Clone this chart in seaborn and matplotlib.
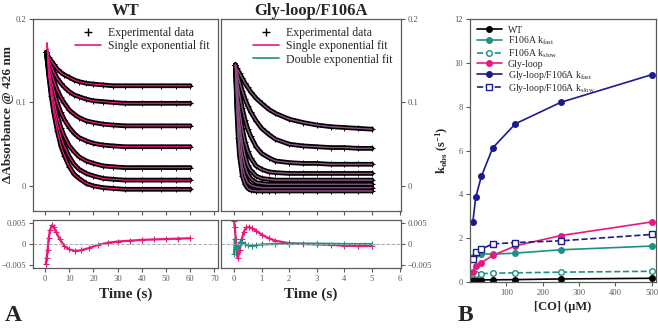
import numpy as np
import pandas as pd
import matplotlib.pyplot as plt
import seaborn as sns
from matplotlib.lines import Line2D

# ── colours ──────────────────────────────────────────────────
PINK = "#e8197d"
TEAL = "#1c9185"
NAVY = "#1b1b8f"
GREY = "#5a5a5a"

# ── A: WT stopped-flow traces (ΔA at 426 nm) ────────────────
wt_time = [0.5, 1.5, 2.5, 3.5, 5, 6.5, 8, 10, 12, 14, 17, 20, 24, 28, 33, 40, 48, 54, 60]
wt_traces = [
    [0.160, 0.154, 0.150, 0.146, 0.140, 0.136, 0.133, 0.130, 0.127, 0.125, 0.123, 0.122, 0.121, 0.120, 0.120, 0.120, 0.120, 0.120, 0.120],
    [0.160, 0.151, 0.144, 0.137, 0.129, 0.123, 0.118, 0.113, 0.109, 0.107, 0.104, 0.102, 0.101, 0.100, 0.099, 0.099, 0.099, 0.099, 0.099],
    [0.160, 0.147, 0.136, 0.127, 0.115, 0.106, 0.099, 0.091, 0.086, 0.082, 0.078, 0.076, 0.074, 0.073, 0.072, 0.072, 0.072, 0.072, 0.072],
    [0.160, 0.142, 0.127, 0.115, 0.100, 0.088, 0.079, 0.070, 0.063, 0.058, 0.054, 0.051, 0.049, 0.048, 0.047, 0.047, 0.047, 0.047, 0.047],
    [0.160, 0.138, 0.119, 0.104, 0.085, 0.070, 0.059, 0.048, 0.041, 0.035, 0.030, 0.027, 0.024, 0.023, 0.022, 0.022, 0.022, 0.022, 0.022],
    [0.160, 0.135, 0.114, 0.096, 0.075, 0.059, 0.047, 0.035, 0.026, 0.020, 0.015, 0.012, 0.009, 0.008, 0.007, 0.007, 0.007, 0.007, 0.007],
    [0.160, 0.132, 0.108, 0.089, 0.066, 0.048, 0.036, 0.023, 0.014, 0.009, 0.003, 0.000, -0.002, -0.003, -0.004, -0.004, -0.004, -0.004, -0.004],
]
wt_fit_t0, wt_fit_a0 = 0.8, 0.171   # start of the fitted curves (small overshoot)

wt_res_t = [0.3, 0.6, 1.0, 1.5, 2.0, 2.7, 3.5, 4.5, 6, 8, 10, 12.5, 15, 18, 22, 26, 30, 35, 40, 45, 50, 55, 60]
wt_res = [-0.0048, -0.0035, -0.0015, 0.0015, 0.0033, 0.0045, 0.0042, 0.0030, 0.0012, -0.0005, -0.0013,
          -0.0017, -0.0015, -0.0010, -0.0002, 0.0003, 0.0006, 0.0008, 0.0010, 0.0011, 0.0012, 0.0013, 0.0014]

# ── A: Gly-loop/F106A traces ─────────────────────────────────
gl_time = [0.05, 0.1, 0.15, 0.2, 0.3, 0.4, 0.5, 0.6, 0.8, 1.0, 1.25, 1.5, 2.0, 2.5, 3.0, 3.5, 4.0, 4.5, 5.0]
gl_traces = [
    [0.145, 0.141, 0.138, 0.135, 0.129, 0.123, 0.118, 0.113, 0.105, 0.099, 0.092, 0.087, 0.080, 0.076, 0.073, 0.071, 0.070, 0.069, 0.068],
    [0.145, 0.138, 0.131, 0.125, 0.114, 0.104, 0.096, 0.089, 0.078, 0.069, 0.062, 0.056, 0.050, 0.048, 0.047, 0.046, 0.046, 0.045, 0.045],
    [0.145, 0.132, 0.121, 0.110, 0.093, 0.079, 0.068, 0.060, 0.047, 0.039, 0.034, 0.030, 0.028, 0.027, 0.027, 0.026, 0.026, 0.026, 0.026],
    [0.145, 0.124, 0.107, 0.092, 0.069, 0.053, 0.042, 0.034, 0.024, 0.020, 0.017, 0.016, 0.015, 0.015, 0.015, 0.015, 0.015, 0.015, 0.015],
    [0.145, 0.117, 0.095, 0.077, 0.052, 0.036, 0.025, 0.019, 0.012, 0.009, 0.008, 0.007, 0.007, 0.007, 0.007, 0.007, 0.007, 0.007, 0.007],
    [0.145, 0.111, 0.085, 0.065, 0.038, 0.023, 0.014, 0.009, 0.004, 0.003, 0.002, 0.002, 0.002, 0.002, 0.002, 0.002, 0.002, 0.002, 0.002],
    [0.145, 0.102, 0.071, 0.049, 0.024, 0.011, 0.004, 0.001, -0.001, -0.002, -0.002, -0.002, -0.002, -0.002, -0.002, -0.002, -0.002, -0.002, -0.002],
    [0.145, 0.093, 0.058, 0.036, 0.012, 0.002, -0.003, -0.005, -0.006, -0.006, -0.006, -0.006, -0.006, -0.006, -0.006, -0.006, -0.006, -0.006, -0.006],
]

gl_res1_t = [0.0, 0.03, 0.06, 0.1, 0.14, 0.2, 0.28, 0.36, 0.45, 0.55, 0.65, 0.8, 1.0, 1.25, 1.5, 2.0, 2.5, 3.0, 3.5, 4.0, 4.5, 5.0]
gl_res1 = [0.0055, 0.0042, 0.0012, -0.0025, -0.0034, -0.0015, 0.0012, 0.0030, 0.0040, 0.0041, 0.0038,
           0.0032, 0.0023, 0.0014, 0.0008, 0.0002, 0.0000, -0.0001, -0.0002, -0.0004, -0.0005, -0.0005]
gl_res2_t = [0.0, 0.03, 0.06, 0.1, 0.15, 0.22, 0.3, 0.4, 0.5, 0.65, 0.8, 1.0, 1.5, 2.0, 3.0, 4.0, 5.0]
gl_res2 = [-0.0024, 0.0012, -0.0010, -0.0011, -0.0004, 0.0005, 0.0004, -0.0001, -0.0003, -0.0004,
           -0.0003, -0.0001, 0.0000, 0.0001, 0.0001, 0.0000, 0.0000]

# ── B: kobs vs [CO] ──────────────────────────────────────────
co_conc = [7.8, 15.6, 31.25, 62.5, 125, 250, 500]
k_wt = [0.08, 0.09, 0.10, 0.10, 0.11, 0.14, 0.17]
k_f106a_fast = [1.12, 1.28, 1.29, 1.27, 1.32, 1.47, 1.64]
k_f106a_slow = [0.36, 0.38, 0.38, 0.40, 0.42, 0.45, 0.49]
k_glyloop = [0.45, 0.75, 0.88, 1.21, 1.65, 2.12, 2.74]
k_glf_fast = [2.73, 3.86, 4.82, 6.12, 7.22, 8.20, 9.46]
k_glf_slow = [1.06, 1.35, 1.50, 1.74, 1.80, 1.88, 2.17]

# ── style ────────────────────────────────────────────────────
sns.set_style("ticks")
plt.rcParams["font.family"] = ["Liberation Serif", "DejaVu Serif"]
plt.rcParams["mathtext.fontset"] = "custom"
plt.rcParams["mathtext.rm"] = "Liberation Serif"
plt.rcParams["mathtext.it"] = "Liberation Serif:italic"
plt.rcParams["mathtext.bf"] = "Liberation Serif:bold"


def style(ax):
    for s in ax.spines.values():
        s.set_color(GREY)
        s.set_linewidth(0.9)
    ax.tick_params(colors=GREY, labelsize=6.2, length=3, width=0.8, pad=2)


fig = plt.figure(figsize=(6.58, 3.28), dpi=100)
ax_wt = fig.add_axes([0.0502, 0.3567, 0.2812, 0.5854])
ax_wt_r = fig.add_axes([0.0502, 0.1829, 0.2812, 0.1463])
ax_gl = fig.add_axes([0.3359, 0.3567, 0.2736, 0.5854])
ax_gl_r = fig.add_axes([0.3359, 0.1829, 0.2736, 0.1463])
ax_b = fig.add_axes([0.7143, 0.1402, 0.2827, 0.8018])

# ── WT traces ────────────────────────────────────────────────
for tr in wt_traces:
    sns.lineplot(x=wt_time, y=tr, ax=ax_wt, color="black", lw=3.4, marker="+", markersize=4,
                 markeredgecolor="black", markeredgewidth=0.7, legend=False)
for tr in wt_traces:
    sns.lineplot(x=[wt_fit_t0] + wt_time[1:], y=[wt_fit_a0] + tr[1:], ax=ax_wt,
                 color=PINK, lw=0.9, legend=False)

ax_wt.set_xlim(-5, 71.5)
ax_wt.set_ylim(-0.03, 0.2)
ax_wt.set_xticks(range(0, 71, 10))
ax_wt.set_yticks([0, 0.1, 0.2])
ax_wt.set_yticklabels(["0", "0.1", "0.2"])
ax_wt.tick_params(axis="x", labelbottom=False)
ax_wt.set_title("WT", fontweight="bold", fontsize=12, pad=3)
ax_wt.set_ylabel("ΔAbsorbance @ 426 nm", fontweight="bold", fontsize=9.5)
ax_wt.yaxis.set_label_coords(-0.105, 0.5)
style(ax_wt)
leg_h = [Line2D([], [], color="black", marker="+", ls="none", ms=6),
         Line2D([], [], color=PINK, lw=1.2)]
ax_wt.legend(leg_h, ["Experimental data", "Single exponential fit"], loc="upper right",
             frameon=False, fontsize=8.5, handlelength=2.2, labelspacing=0.1,
             borderaxespad=0.3, handletextpad=0.6)

sns.lineplot(x=wt_res_t, y=wt_res, ax=ax_wt_r, color=PINK, lw=1.6, marker="+", markersize=4,
             markeredgecolor=PINK, markeredgewidth=0.8, legend=False)
ax_wt_r.axhline(0, color="#aaaaaa", ls="--", lw=0.7)
ax_wt_r.set_xlim(-5, 71.5)
ax_wt_r.set_ylim(-0.0058, 0.0058)
ax_wt_r.set_xticks(range(0, 71, 10))
ax_wt_r.set_yticks([-0.005, 0, 0.005])
ax_wt_r.set_yticklabels(["\u22120.005", "0", "0.005"])
ax_wt_r.set_xlabel("Time (s)", fontweight="bold", fontsize=11, labelpad=3)
style(ax_wt_r)

# ── Gly-loop/F106A traces ────────────────────────────────────
for tr in gl_traces:
    sns.lineplot(x=gl_time, y=tr, ax=ax_gl, color="black", lw=3.4, marker="+", markersize=4,
                 markeredgecolor="black", markeredgewidth=0.7, legend=False)
for tr in gl_traces:
    sns.lineplot(x=gl_time, y=tr, ax=ax_gl, color=PINK, lw=0.9, legend=False)
    sns.lineplot(x=gl_time, y=tr, ax=ax_gl, color=TEAL, lw=0.8, alpha=0.6, legend=False)

ax_gl.set_xlim(-0.47, 6.05)
ax_gl.set_ylim(-0.03, 0.2)
ax_gl.set_xticks(range(0, 7))
ax_gl.set_yticks([0, 0.1, 0.2])
ax_gl.set_yticklabels(["0", "0.1", "0.2"])
ax_gl.yaxis.tick_right()
ax_gl.tick_params(axis="x", labelbottom=False)
ax_gl.set_title("Gly-loop/F106A", fontweight="bold", fontsize=12, pad=3)
style(ax_gl)
leg_h = [Line2D([], [], color="black", marker="+", ls="none", ms=6),
         Line2D([], [], color=PINK, lw=1.2),
         Line2D([], [], color=TEAL, lw=1.2)]
ax_gl.legend(leg_h, ["Experimental data", "Single exponential fit", "Double exponential fit"],
             loc="upper right", frameon=False, fontsize=8.5, handlelength=2.2, labelspacing=0.1,
             borderaxespad=0.3, handletextpad=0.6)

sns.lineplot(x=gl_res1_t, y=gl_res1, ax=ax_gl_r, color=PINK, lw=1.6, marker="+", markersize=4,
             markeredgecolor=PINK, markeredgewidth=0.8, legend=False)
sns.lineplot(x=gl_res2_t, y=gl_res2, ax=ax_gl_r, color=TEAL, lw=1.6, marker="+", markersize=4,
             markeredgecolor=TEAL, markeredgewidth=0.8, legend=False)
ax_gl_r.axhline(0, color="#aaaaaa", ls="--", lw=0.7)
ax_gl_r.set_xlim(-0.47, 6.05)
ax_gl_r.set_ylim(-0.0058, 0.0058)
ax_gl_r.set_xticks(range(0, 7))
ax_gl_r.set_yticks([-0.005, 0, 0.005])
ax_gl_r.set_yticklabels(["\u22120.005", "0", "0.005"])
ax_gl_r.yaxis.tick_right()
ax_gl_r.set_xlabel("Time (s)", fontweight="bold", fontsize=11, labelpad=3)
style(ax_gl_r)

# ── B ────────────────────────────────────────────────────────
series = [
    ("WT", k_wt, "black", "-", "o", True),
    (r"F106A k$_{\mathrm{fast}}$", k_f106a_fast, TEAL, "-", "o", True),
    (r"F106A k$_{\mathrm{slow}}$", k_f106a_slow, TEAL, "--", "o", False),
    ("Gly-loop", k_glyloop, PINK, "-", "o", True),
    (r"Gly-loop/F106A k$_{\mathrm{fast}}$", k_glf_fast, NAVY, "-", "o", True),
    (r"Gly-loop/F106A k$_{\mathrm{slow}}$", k_glf_slow, NAVY, "--", "s", False),
]
for label, vals, col, ls, mk, filled in series:
    sns.lineplot(x=co_conc, y=vals, ax=ax_b, color=col, lw=1.2, linestyle=ls, marker=mk,
                 markersize=4, markeredgecolor=col, markeredgewidth=1.0,
                 markerfacecolor=col if filled else "white", label=label)

ax_b.set_xlim(0, 512)
ax_b.set_ylim(0, 12)
ax_b.set_xticks([100, 200, 300, 400, 500])
ax_b.set_yticks(range(0, 13, 2))
ax_b.set_xlabel("[CO] (μM)", fontweight="bold", fontsize=9, labelpad=3)
ax_b.set_ylabel(r"$\mathbf{k_{obs}}$ (s$^{\mathbf{-1}}$)", fontweight="bold", fontsize=9)
ax_b.yaxis.set_label_coords(-0.10, 0.5)
style(ax_b)
ax_b.legend(loc="upper left", frameon=False, fontsize=7, handlelength=2.6, labelspacing=0.0,
            borderaxespad=0.3, handletextpad=0.6)

fig.text(0.008, 0.02, "A", fontsize=17, fontweight="bold")
fig.text(0.695, 0.02, "B", fontsize=17, fontweight="bold")

fig.savefig("out.png", dpi=100)
